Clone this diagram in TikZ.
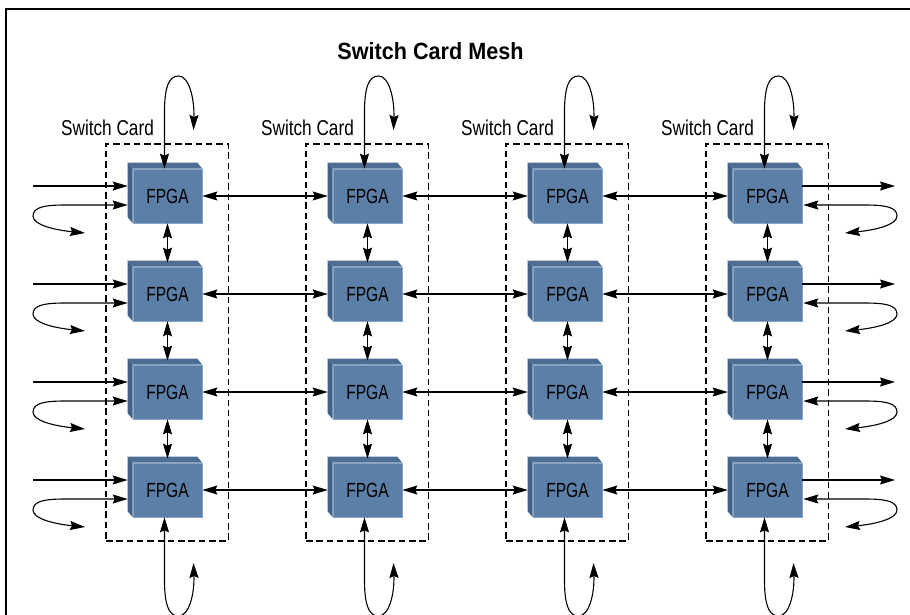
\documentclass[tikz,border=0pt]{standalone}
\usepackage{fontspec}
\setmainfont{Liberation Sans}
\newfontfamily\fpgafont[FakeStretch=0.76]{Liberation Sans}
\newfontfamily\cardfont[FakeStretch=0.80]{Liberation Sans}
\newfontfamily\titlefont[FakeStretch=0.92]{Liberation Sans}
\usetikzlibrary{arrows.meta,calc}
\definecolor{frontc}{RGB}{92,127,167}
\definecolor{topc}{RGB}{78,110,150}
\definecolor{sidec}{RGB}{66,97,136}
\definecolor{edgec}{RGB}{135,165,198}
\tikzset{
  fpga/.style={rectangle, fill=frontc, draw=edgec, line width=0.6pt,
    minimum width=69pt, minimum height=54pt, inner sep=0pt,
    font=\fpgafont\fontsize{20.5}{24}\selectfont},
  conn/.style={line width=1.1pt, >={Stealth[length=15pt,width=9pt,inset=2pt]}},
  cardbox/.style={draw, line width=1.2pt, dash pattern=on 6.5pt off 3.8pt,
    minimum width=122.5pt, minimum height=397pt, inner sep=0pt},
  cardlabel/.style={font=\cardfont\fontsize{21.5}{25}\selectfont, inner sep=0pt, anchor=base},
  titlelabel/.style={font=\titlefont\bfseries\fontsize{23.5}{28}\selectfont, inner sep=0pt, anchor=base}
}
\begin{document}
\begin{tikzpicture}[x=1pt,y=-1pt]
\clip (0,0) rectangle (910,614);
\fill[white] (0,0) rectangle (910,614);
\draw[line width=1.4pt] (6,630) -- (6,9) -- (930,9);
\node[titlelabel] (title) at (430.5,59) {Switch Card Mesh};
% cards and FPGAs
\foreach \c in {0,...,3}{
  \pgfmathsetmacro\cx{167.5+200*\c}
  \node[cardbox] (card\c) at (\cx-0.25,342.5) {};
  \node[cardlabel] (sc\c) at (\cx-60,135) {Switch Card};
  \foreach \r in {0,...,3}{
    \pgfmathsetmacro\cy{196+98*\r}
    \node[fpga] (f\r\c) at (\cx,\cy) {FPGA};
    \fill[topc] (f\r\c.north west) -- ++(-5,-6) -- ($(f\r\c.north east)+(-5,-6)$) -- (f\r\c.north east) -- cycle;
    \fill[sidec] (f\r\c.north west) -- ++(-5,-6) -- ($(f\r\c.south west)+(-5,-6)$) -- (f\r\c.south west) -- cycle;
  }
}
% horizontal links
\foreach \r in {0,...,3}{
  \foreach \c in {0,1,2}{
    \pgfmathtruncatemacro\cn{\c+1}
    \draw[conn,<->] (f\r\c.east) -- ($(f\r\cn.west)+(-5,0)$);
  }
}
% vertical links
\foreach \c in {0,...,3}{
  \foreach \r in {0,1,2}{
    \pgfmathtruncatemacro\rn{\r+1}
    \draw[conn,<->] (f\r\c.south) -- ($(f\rn\c.north)+(0,-4)$);
  }
}
% top and bottom loops
\foreach \c in {0,...,3}{
  \pgfmathsetmacro\cx{167.5+200*\c}
  \coordinate (tt\c) at (\cx+26,130);
  \draw[conn,<->] (tt\c) .. controls (\cx+27,100) and (\cx+22,76) .. (\cx+11,76)
     .. controls (\cx+1,76) and (\cx-3,88) .. (\cx-3,112) -- ($(f0\c.north)+(-3,0)$);
  \coordinate (bt\c) at (\cx+26,563);
  \draw[conn,<->] ($(f3\c.south)+(-3,0)$) -- (\cx-3,580)
     .. controls (\cx-3,604) and (\cx+1,616) .. (\cx+11,616)
     .. controls (\cx+22,616) and (\cx+27,593) .. (bt\c);
}
% left and right side I/O
\foreach \r in {0,...,3}{
  \pgfmathsetmacro\cy{196+98*\r}
  \coordinate (li\r) at (33,\cy-10);
  \draw[conn,->] (li\r) -- ($(f\r0.west)+(-5,-10)$);
  \coordinate (lt\r) at (85,\cy+37);
  \draw[conn,<->] (lt\r) .. controls (55,\cy+34) and (33,\cy+29) .. (33,\cy+20)
     .. controls (33,\cy+11) and (45,\cy+9) .. (65,\cy+9) -- ($(f\r0.west)+(-5,9)$);
  \coordinate (ro\r) at (895,\cy-10);
  \draw[conn,->] ($(f\r3.east)+(0,-10)$) -- (ro\r);
  \coordinate (rt\r) at (845,\cy+37);
  \draw[conn,<->] ($(f\r3.east)+(1,9)$) -- (865,\cy+9)
     .. controls (885,\cy+9) and (897,\cy+11) .. (897,\cy+20)
     .. controls (897,\cy+29) and (875,\cy+34) .. (rt\r);
}
\end{tikzpicture}
\end{document}
